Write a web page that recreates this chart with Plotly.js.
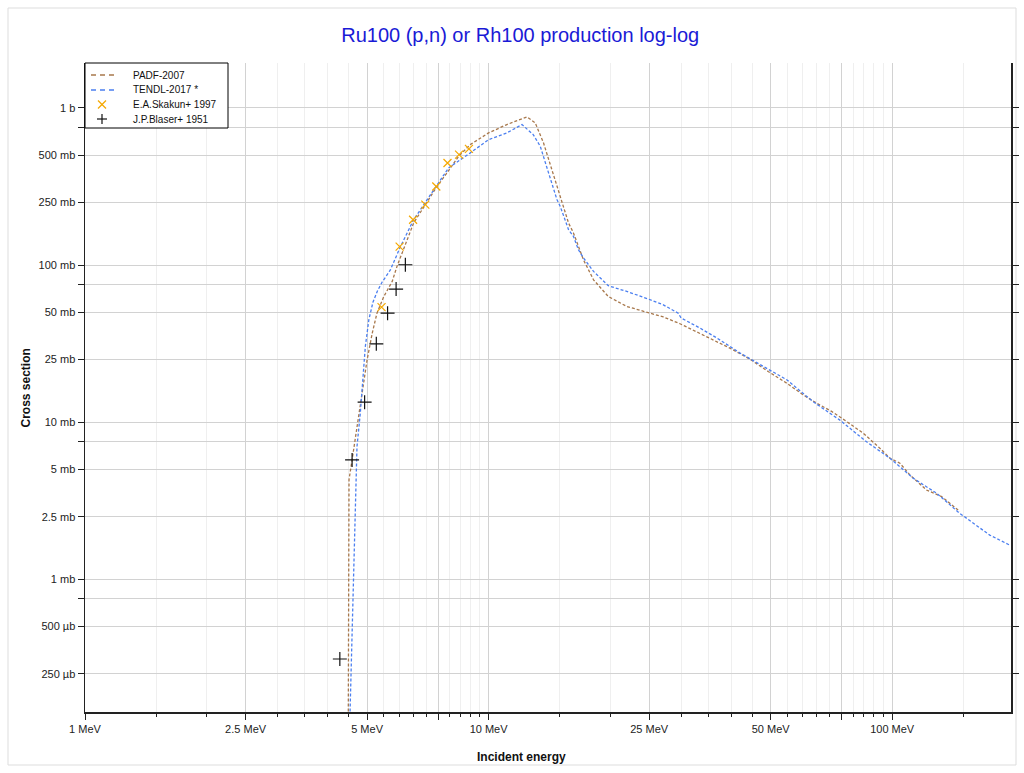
<!DOCTYPE html>
<html>
<head>
<meta charset="utf-8">
<script src="https://cdn.plot.ly/plotly-3.0.1.min.js"></script>
<style>html,body{margin:0;padding:0;background:#fff;}#chart{width:1024px;height:773px;}</style>
</head>
<body>
<div id="chart"></div>
<script>
// Energies in MeV, cross sections in mb
const padfE = [4.49, 4.50, 4.51, 4.59, 4.72, 4.86, 5.0, 5.15, 5.29, 5.5, 5.77, 5.93, 6.52, 6.97, 7.45, 7.89, 8.43, 9.01, 10, 11.1, 11.98, 12.45, 13.05, 13.68, 14.35, 15.05, 15.78, 16.23, 16.87, 17.18, 18.2, 19.8, 22.0, 24.9, 27.1, 29.8, 34.7, 39.6, 44.4, 49.3, 54.8, 60.2, 65.0, 70.8, 77.1, 84.8, 93.2, 98.7, 104.5, 110.6, 121.6, 132.6, 147.1];
const padfXS = [0.1, 1.0, 4.3, 5.75, 9.4, 15.3, 24.9, 36.9, 49.4, 63, 78.6, 98, 185, 242, 316, 386, 492, 584, 693, 783, 843, 876, 802, 599, 404, 273, 185, 160, 122, 108, 80.5, 63, 54.5, 49.9, 46.7, 42.3, 35.1, 29.6, 25.2, 21.0, 17.7, 14.9, 13.2, 11.7, 10.1, 8.5, 6.83, 5.9, 5.48, 4.62, 3.70, 3.36, 2.70];

const tendlE = [4.52, 4.55, 4.59, 4.63, 4.68, 4.72, 4.81, 4.88, 4.95, 5.05, 5.17, 5.3, 5.45, 5.71, 6.05, 6.52, 7.17, 7.96, 9.01, 10, 11.1, 12.1, 12.9, 13.43, 14.08, 14.77, 15.05, 15.78, 16.23, 16.7, 17.18, 18.2, 19.8, 22.0, 24.9, 27.1, 29.5, 30.0, 33.4, 36.8, 42.0, 47.0, 54.8, 63.7, 74.2, 86.4, 98.7, 112.7, 128.8, 147, 174.5, 195.6];
const tendlXS = [0.1, 0.2, 0.5, 1.33, 4.29, 7.0, 11.4, 18.6, 30.3, 44.8, 58, 68, 78, 93, 131, 194, 281, 415, 517, 628, 693, 783, 676, 569, 386, 261, 236, 168, 152, 125, 111, 91, 73.8, 67.9, 60.7, 55.8, 49.4, 46, 39.7, 34.3, 27.5, 23.2, 18.6, 13.5, 10.3, 7.5, 5.9, 4.40, 3.53, 2.63, 1.91, 1.65];

const skakunE = [5.43, 6.02, 6.50, 6.97, 7.42, 7.91, 8.45, 8.94];
const skakunXS = [54.0, 131, 194, 242, 316, 446, 504, 548];

const blaserE = [4.28, 4.59, 4.93, 5.27, 5.62, 5.90, 6.22];
const blaserXS = [0.311, 5.75, 13.4, 31.5, 49.4, 70.3, 100.4];

const seriesNames = ['PADF-2007', 'TENDL-2017 *', 'E.A.Skakun+ 1997', 'J.P.Blaser+ 1951'];
const seriesColors = ['#a8784c', '#4b7ff0', '#f5a800', '#111111'];

const xTickVals = [1, 2.5, 5, 7.5, 10, 25, 50, 75, 100];
const xTickText = ['1 MeV', '2.5 MeV', '5 MeV', '', '10 MeV', '25 MeV', '50 MeV', '', '100 MeV'];
const xMinorVals = [1.5, 2, 3, 3.5, 4, 4.5, 5.5, 6, 6.5, 7, 8, 8.5, 9, 9.5, 15, 20, 30, 35, 40, 45, 55, 60, 65, 70, 80, 85, 90, 95, 150];

const yTickVals = [0.25, 0.5, 0.75, 1, 2.5, 5, 7.5, 10, 25, 50, 75, 100, 250, 500, 750, 1000];
const yTickText = ['250 µb', '500 µb', '', '1 mb', '2.5 mb', '5 mb', '', '10 mb', '25 mb', '50 mb', '', '100 mb', '250 mb', '500 mb', '', '1 b'];

const DASH = '3px,2px';
const traces = [
  {x: padfE, y: padfXS, name: seriesNames[0], mode: 'lines', type: 'scatter',
   line: {color: seriesColors[0], width: 1.3, dash: DASH}},
  {x: tendlE, y: tendlXS, name: seriesNames[1], mode: 'lines', type: 'scatter',
   line: {color: seriesColors[1], width: 1.3, dash: DASH}},
  {x: skakunE, y: skakunXS, name: seriesNames[2], mode: 'markers', type: 'scatter',
   marker: {symbol: 'x-thin-open', size: 8, color: seriesColors[2], line: {color: seriesColors[2], width: 1.2}}},
  {x: blaserE, y: blaserXS, name: seriesNames[3], mode: 'markers', type: 'scatter',
   marker: {symbol: 'cross-thin-open', size: 10, color: seriesColors[3], line: {color: seriesColors[3], width: 1.2}}}
];

// ---- plot geometry (pixels) ----
const M = {l: 85, r: 13, t: 63, b: 61};
const W = 1024, H = 773;
const PW = W - M.l - M.r, PH = H - M.t - M.b;
const px = v => (v - M.l) / PW;          // pixel x -> paper x
const py = v => (H - M.b - v) / PH;      // pixel y -> paper y

const fontFam = 'Liberation Sans, Arial, sans-serif';

// ---- compact legend box drawn with shapes + text ----
const legShapes = [];
const legAnn = [];
legShapes.push({type: 'rect', xref: 'paper', yref: 'paper', x0: px(85), x1: px(228), y0: py(128), y1: py(63),
                line: {color: '#000', width: 1}, fillcolor: '#fff', layer: 'above'});
const rowY = [75, 90, 104.5, 119];
seriesNames.forEach((nm, i) => {
  const y = rowY[i];
  if (i < 2) {
    legShapes.push({type: 'line', xref: 'paper', yref: 'paper', x0: px(91), x1: px(116), y0: py(y), y1: py(y),
                    line: {color: seriesColors[i], width: 1.6, dash: '5px,4px'}, layer: 'above'});
  } else if (i === 2) {
    legShapes.push({type: 'line', xref: 'paper', yref: 'paper', x0: px(98), x1: px(106), y0: py(y - 4), y1: py(y + 4),
                    line: {color: seriesColors[i], width: 1.2}, layer: 'above'});
    legShapes.push({type: 'line', xref: 'paper', yref: 'paper', x0: px(98), x1: px(106), y0: py(y + 4), y1: py(y - 4),
                    line: {color: seriesColors[i], width: 1.2}, layer: 'above'});
  } else {
    legShapes.push({type: 'line', xref: 'paper', yref: 'paper', x0: px(97), x1: px(107), y0: py(y), y1: py(y),
                    line: {color: seriesColors[i], width: 1.2}, layer: 'above'});
    legShapes.push({type: 'line', xref: 'paper', yref: 'paper', x0: px(102), x1: px(102), y0: py(y - 5), y1: py(y + 5),
                    line: {color: seriesColors[i], width: 1.2}, layer: 'above'});
  }
  legAnn.push({text: nm, xref: 'paper', yref: 'paper', x: px(131), y: py(y), xanchor: 'left', yanchor: 'middle',
               showarrow: false, font: {family: fontFam, size: 10, color: '#111'}});
});

const layout = {
  width: W, height: H,
  margin: M,
  paper_bgcolor: '#fff', plot_bgcolor: '#fff',
  font: {family: fontFam, size: 11, color: '#222'},
  title: {text: 'Ru100 (p,n) or Rh100 production log-log', font: {family: fontFam, size: 20, color: '#1a1ad6'},
          xref: 'container', x: 0.508, xanchor: 'center', yref: 'container', y: 1 - 35/773, yanchor: 'middle'},
  showlegend: false,
  xaxis: {type: 'log', range: [0, Math.log10(197)], tickmode: 'array', tickvals: xTickVals, ticktext: xTickText,
          ticks: 'outside', ticklen: 6, tickcolor: '#222', showgrid: true, gridcolor: '#d2d2d2', gridwidth: 1,
          showline: true, linecolor: '#222', linewidth: 1.5, zeroline: false,
          tickfont: {family: fontFam, size: 11, color: '#222'},
          minor: {tickmode: 'array', tickvals: xMinorVals, ticks: 'outside', ticklen: 3, tickcolor: '#222',
                  showgrid: true, gridcolor: '#efefef', gridwidth: 1}},
  yaxis: {type: 'log', range: [Math.log10(0.143), Math.log10(1930)], tickmode: 'array', tickvals: yTickVals, ticktext: yTickText,
          ticks: 'outside', ticklen: 6, tickcolor: '#222', showgrid: true, gridcolor: '#d2d2d2', gridwidth: 1,
          showline: true, linecolor: '#222', linewidth: 1.5, mirror: 'ticks', zeroline: false,
          tickfont: {family: fontFam, size: 11, color: '#222'}},
  annotations: [
    {text: '<b>Cross section</b>', textangle: -90, xref: 'paper', yref: 'paper', x: px(25), y: 0.5,
     xanchor: 'center', yanchor: 'middle', showarrow: false, font: {family: fontFam, size: 12, color: '#111'}},
    {text: '<b>Incident energy</b>', xref: 'paper', yref: 'paper', x: px(521), y: py(757),
     xanchor: 'center', yanchor: 'middle', showarrow: false, font: {family: fontFam, size: 12, color: '#111'}}
  ].concat(legAnn),
  shapes: [
    {type: 'rect', xref: 'paper', yref: 'paper', x0: px(8), x1: px(1016), y0: py(765), y1: py(8),
     line: {color: '#dddddd', width: 1}, fillcolor: 'rgba(0,0,0,0)', layer: 'below'}
  ].concat(legShapes)
};

Plotly.newPlot('chart', traces, layout, {displayModeBar: false, staticPlot: true});
</script>
</body>
</html>
